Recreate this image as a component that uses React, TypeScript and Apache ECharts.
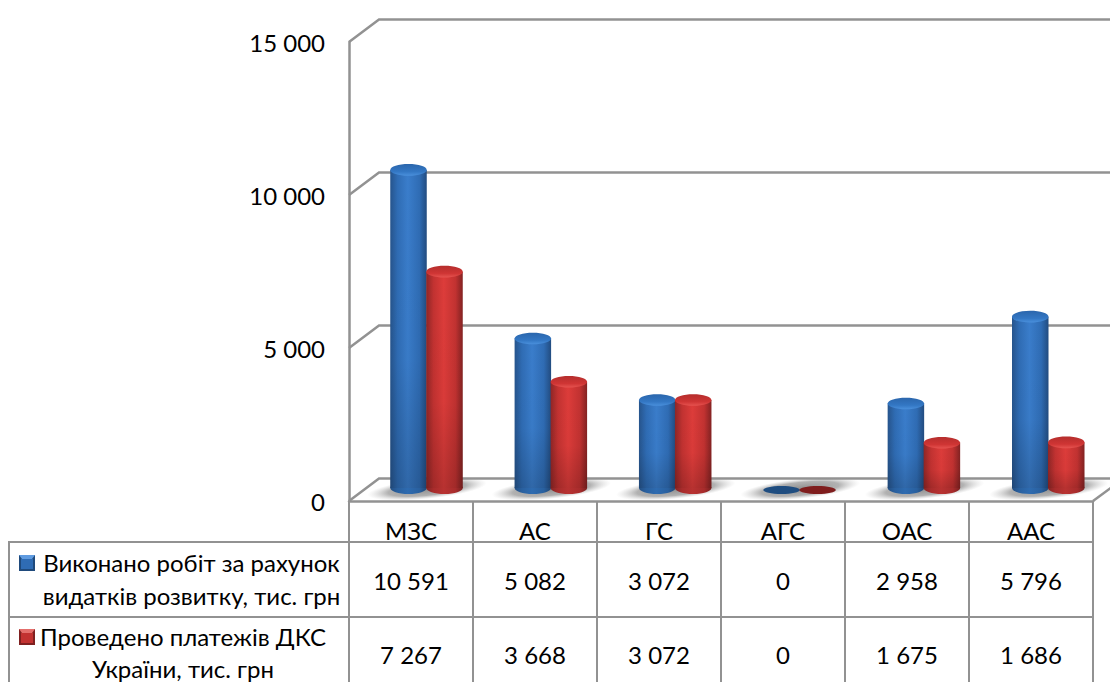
import React, { useEffect, useRef } from "react";
import * as echarts from "echarts";

const categories = ["МЗС", "АС", "ГС", "АГС", "ОАС", "ААС"];
const worksDone = [10591, 5082, 3072, 0, 2958, 5796];
const paymentsMade = [7267, 3668, 3072, 0, 1675, 1686];
const axisTicks = [0, 5000, 10000, 15000];
const worksLegend = ["Виконано робіт за рахунок", "видатків розвитку, тис. грн"];
const paymentsLegend = ["Проведено платежів ДКС", "України, тис. грн"];

const FONT = "Lato, Carlito, 'Open Sans', sans-serif";
const TEXT = "#000000";
const GRID = "#929292";
const LABEL_SIZE = 24;
const fmt = (v: number) => String(v).replace(/\B(?=(\d{3})+$)/g, " ");

const hGrad = (l: string, m: string, c: string, r: string, e: string) =>
  new echarts.graphic.LinearGradient(0, 0, 1, 0, [
    { offset: 0, color: l },
    { offset: 0.2, color: m },
    { offset: 0.48, color: c },
    { offset: 0.8, color: m },
    { offset: 1, color: e || r },
  ]);
const vGrad = (stops: [number, string][]) =>
  new echarts.graphic.LinearGradient(0, 0, 0, 1, stops.map(([offset, color]) => ({ offset, color })));

type Palette = {
  body: [string, string, string, string, string];
  base: [string, string, string, string, string];
  cap: [number, string][];
  flat: string;
};
const BLUE: Palette = {
  body: ["#26548c", "#2f6cb4", "#3a7dcb", "#2f6cb4", "#224c80"],
  base: ["#234e82", "#29609f", "#2e6bb0", "#29609f", "#1f4674"],
  cap: [[0, "#2b66ac"], [0.65, "#3377c4"], [1, "#4a90dc"]],
  flat: "#1f4d80",
};
const RED: Palette = {
  body: ["#8f2626", "#c23231", "#dd3c3a", "#c23231", "#832222"],
  base: ["#842424", "#a82c2c", "#b83231", "#a82c2c", "#7a2020"],
  cap: [[0, "#b52e2d"], [0.65, "#cf3534"], [1, "#e65350"]],
  flat: "#7f1d1d",
};

const BAR_W = 36.5;
const DRIFT = 0.35;
const cylinder = (palette: Palette, shift: number) => (params: any, api: any) => {
  const idx = api.value(0);
  const val = api.value(1);
  const [x0, y0] = api.coord([idx, 0]);
  const [, yV] = api.coord([idx, val]);
  const cx = x0 + shift + idx * DRIFT;
  const rx = BAR_W / 2;
  if (val === 0) {
    return {
      type: "ellipse",
      shape: { cx, cy: y0 - 11, rx, ry: 4 },
      style: { fill: palette.flat },
    };
  }
  const baseY = y0 - 13;
  const topY = yV - 7;
  return {
    type: "group",
    children: [
      {
        type: "ellipse",
        shape: { cx, cy: baseY, rx, ry: 6 },
        style: { fill: hGrad(...palette.base) },
      },
      {
        type: "rect",
        shape: { x: cx - rx, y: topY, width: BAR_W, height: baseY - topY },
        style: { fill: hGrad(...palette.body) },
      },
      {
        type: "rect",
        shape: { x: cx - rx, y: topY, width: BAR_W, height: baseY - topY },
        style: {
          fill: vGrad([
            [0, "rgba(0,0,0,0)"],
            [0.6, "rgba(0,0,0,0.02)"],
            [1, "rgba(0,0,0,0.17)"],
          ]),
        },
      },
      {
        type: "ellipse",
        shape: { cx, cy: topY, rx, ry: 5.8 },
        style: { fill: vGrad(palette.cap) },
      },
    ],
  };
};

const floorShadow = (params: any, api: any) => {
  const idx = api.value(0);
  const [x, y] = api.coord([idx, 0]);
  const cx = x + 16 + idx * DRIFT;
  const cy = y - 12;
  return {
    type: "ellipse",
    originX: cx,
    originY: cy,
    rotation: 0.1,
    shape: { cx, cy, rx: 60, ry: 10 },
    style: {
      fill: new echarts.graphic.RadialGradient(0.5, 0.5, 0.5, [
        { offset: 0, color: "rgba(80,80,80,0.65)" },
        { offset: 0.65, color: "rgba(100,100,100,0.5)" },
        { offset: 1, color: "rgba(170,170,170,0)" },
      ]),
    },
  };
};

const wallLine = (params: any, api: any) => {
  const v = api.value(0);
  const [xL, y] = api.coord([0, v]);
  const left = xL - 62;
  return {
    type: "polyline",
    shape: {
      points: [
        [left, y],
        [left + 30, y - 22.5],
        [1112, y - 22.5],
      ],
    },
    style: { fill: "none", stroke: GRID, lineWidth: 2.5 },
  };
};

const tableCell = (row: number) => (params: any, api: any) => {
  const [x] = api.coord([api.value(0), 0]);
  return {
    type: "text",
    x,
    y: row,
    style: {
      text: fmt(api.value(1)),
      fill: TEXT,
      font: `${LABEL_SIZE}px ${FONT}`,
      align: "center",
      verticalAlign: "middle",
    },
  };
};

const hLine = (y: number) => ({
  type: "line",
  shape: { x1: 9, y1: y, x2: 1093, y2: y },
  style: { stroke: GRID, lineWidth: 2 },
});
const legendText = (text: string, x: number, y: number) => ({
  type: "text",
  x,
  y,
  style: { text, fill: TEXT, font: `${LABEL_SIZE}px ${FONT}`, align: "center", verticalAlign: "middle" },
});
const legendKey = (y: number, dark: string, mid: string, light: string) => ({
  type: "group",
  x: 19,
  y,
  children: [
    { type: "rect", shape: { x: 0, y: 0, width: 16, height: 16 }, style: { fill: dark } },
    { type: "rect", shape: { x: 2, y: 4, width: 12, height: 10 }, style: { fill: mid } },
    { type: "polygon", shape: { points: [[0, 0], [16, 0], [13, 4], [3, 4]] }, style: { fill: light } },
  ],
});

export default function App() {
  const ref = useRef<HTMLDivElement>(null);
  useEffect(() => {
    document.body.style.margin = "0";
    const chart = echarts.init(ref.current!, undefined, { renderer: "svg" });
    chart.setOption({
      animation: false,
      backgroundColor: "#ffffff",
      textStyle: { fontFamily: FONT },
      grid: { left: 349, right: 17, top: 42, bottom: 181, containLabel: false },
      xAxis: {
        type: "category",
        data: categories,
        boundaryGap: true,
        axisLine: { show: true, lineStyle: { color: GRID, width: 2.5 } },
        axisTick: { show: true, length: 181, lineStyle: { color: GRID, width: 2 } },
        axisLabel: { color: TEXT, fontSize: LABEL_SIZE, fontFamily: FONT, margin: 17 },
        splitLine: { show: false },
      },
      yAxis: {
        type: "value",
        min: 0,
        max: 15000,
        interval: 5000,
        axisLine: { show: true, lineStyle: { color: GRID, width: 2.5 } },
        axisTick: { show: false },
        splitLine: { show: false },
        axisLabel: { color: TEXT, fontSize: LABEL_SIZE, fontFamily: FONT, margin: 24, formatter: (v: number) => fmt(v) },
      },
      series: [
        { type: "custom", name: "walls", data: axisTicks.map((v) => [v, v]), encode: { y: 0 }, renderItem: wallLine, silent: true, z: 1 },
        { type: "custom", name: "shadow", data: categories.map((_, i) => [i, 0]), renderItem: floorShadow, silent: true, z: 2 },
        { type: "custom", name: worksLegend.join(" "), data: worksDone.map((v, i) => [i, v]), renderItem: cylinder(BLUE, -2.5), z: 3 },
        { type: "custom", name: paymentsLegend.join(" "), data: paymentsMade.map((v, i) => [i, v]), renderItem: cylinder(RED, 33.5), z: 4 },
        { type: "custom", name: "row1", data: worksDone.map((v, i) => [i, v]), renderItem: tableCell(580), silent: true, z: 5 },
        { type: "custom", name: "row2", data: paymentsMade.map((v, i) => [i, v]), renderItem: tableCell(654), silent: true, z: 5 },
      ],
      graphic: [
        hLine(542),
        hLine(617),
        { type: "line", shape: { x1: 9, y1: 541, x2: 9, y2: 682 }, style: { stroke: GRID, lineWidth: 2 } },
        { type: "line", shape: { x1: 1093, y1: 501, x2: 1112, y2: 487 }, style: { stroke: GRID, lineWidth: 2.5 } },
        legendKey(555, "#1f4a7c", "#2f6cb4", "#5f9be0"),
        legendKey(629, "#7f2020", "#c23231", "#e46f6c"),
        legendText(worksLegend[0], 191.5, 562),
        legendText(worksLegend[1], 191.5, 595),
        legendText(paymentsLegend[0], 183, 636),
        legendText(paymentsLegend[1], 183, 668),
      ],
    });
    return () => chart.dispose();
  }, []);
  return <div ref={ref} style={{ width: 1110, height: 682, overflow: "hidden" }} />;
}
